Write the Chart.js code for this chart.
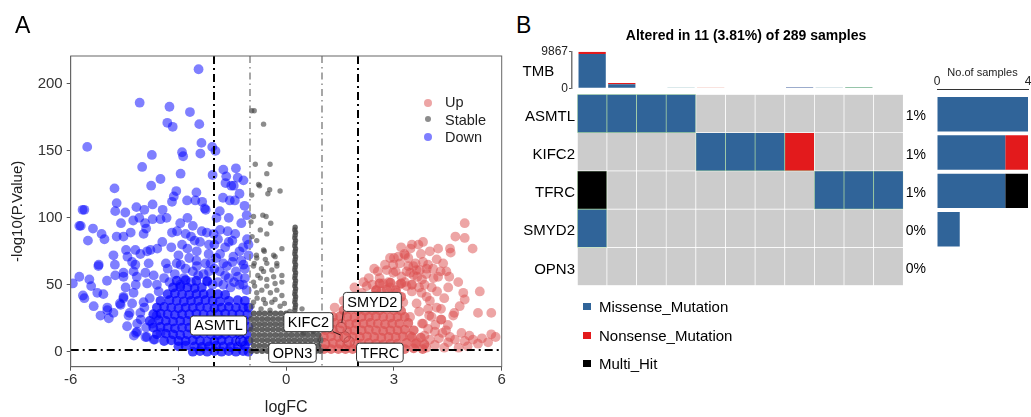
<!DOCTYPE html>
<html><head><meta charset="utf-8"><title>Volcano and oncoprint</title>
<script src="https://cdn.jsdelivr.net/npm/chart.js@4.4.1/dist/chart.umd.min.js"></script>
<style>
html,body{margin:0;padding:0;background:#fff;}
#wrap{position:relative;width:1031px;height:417px;overflow:hidden;font-family:"Liberation Sans",Arial,Helvetica,sans-serif;color:#000;}
#wrap canvas{position:absolute;}
.t{position:absolute;white-space:nowrap;line-height:1;}
.dot{position:absolute;border-radius:50%;}
.sq{position:absolute;width:8px;height:7px;}
</style></head><body>
<div id="wrap">
<canvas id="volcano" width="515" height="417" style="left:0;top:0;"></canvas>
<canvas id="tmb" width="400" height="48" style="left:510px;top:44px;"></canvas>
<canvas id="onco" width="420" height="200" style="left:510px;top:90px;"></canvas>
<canvas id="nsamp" width="101" height="230" style="left:930px;top:60px;"></canvas>

<div class="t" style="left:15px;top:13.5px;font-size:23px;">A</div>
<div class="t" style="left:516px;top:13.5px;font-size:23px;">B</div>
<div class="t" style="left:746px;top:28px;font-size:14px;font-weight:bold;transform:translateX(-50%);">Altered in 11 (3.81%) of 289 samples</div>
<div class="t" style="left:522.5px;top:62.5px;font-size:15px;">TMB</div>

<div class="dot" style="left:423.7px;top:98.7px;width:8px;height:8px;background:rgba(220,75,75,0.5);"></div>
<div class="dot" style="left:424.5px;top:116.1px;width:6.4px;height:6.4px;background:rgba(64,64,64,0.6);"></div>
<div class="dot" style="left:423.7px;top:133px;width:8px;height:8px;background:rgba(0,0,255,0.5);"></div>
<div class="t" style="left:445px;top:94.5px;font-size:14.5px;color:#222;">Up</div>
<div class="t" style="left:445px;top:112.7px;font-size:14.5px;color:#222;">Stable</div>
<div class="t" style="left:445px;top:130px;font-size:14.5px;color:#222;">Down</div>

<div class="sq" style="left:583.3px;top:303.2px;background:#306499;"></div>
<div class="sq" style="left:583.3px;top:331.5px;background:#E31A1C;"></div>
<div class="sq" style="left:583.3px;top:359.8px;background:#000;"></div>
<div class="t" style="left:599px;top:299.2px;font-size:15px;">Missense_Mutation</div>
<div class="t" style="left:599px;top:327.5px;font-size:15px;">Nonsense_Mutation</div>
<div class="t" style="left:599px;top:355.8px;font-size:15px;">Multi_Hit</div>
</div>
<script>
// ---------------- Volcano data ----------------
const xTicks = [-6, -3, 0, 3, 6];
const yTicks = [0, 50, 100, 150, 200];
const vCutoffs = [-2, -1, 1, 2];
const pCutoff = 1.3;

const downScatter = [[-2.44,211],[-4.08,186],[-3.25,183],[-2.68,179],[-3.31,171],[-3.16,168],[-2.42,170],[-5.54,153],[-2.36,156],[-2.06,153],[-1.97,150],[-3.74,147],[-2.39,148],[-2.9,149],[-2.87,146],[-4.01,138],[-3.5,129],[-2.94,133],[-2.05,132],[-1.75,136],[-1.4,137],[-1.67,131],[-1.35,130],[-1.19,128],[-1.69,126],[-1.46,124],[-1.53,124],[-4.78,122],[-3.76,124],[-3.06,120],[-2.5,119],[-3.13,116],[-2.76,113],[-3.18,112],[-2.53,113],[-2.34,112],[-1.76,115],[-1.57,113],[-1.43,113],[-1.3,118],[-1.16,109],[-2.27,107],[-4.72,111],[-4.17,108],[-3.72,110],[-5.67,106],[-5.62,106],[-4.76,105],[-4.48,104],[-3.95,106],[-3.44,106],[-2.24,106],[-4.09,100],[-4.26,98],[-3.72,99],[-3.5,99],[-3.33,100],[-1.94,100],[-5.76,94],[-5.72,94],[-5.38,92],[-3.93,96],[-5.14,88],[-5.06,84],[-5.52,83],[-4.72,86],[-4.53,86],[-4.33,89],[-3.97,88],[-3.18,89],[-3.04,90],[-2.8,88],[-2.6,94],[-2.35,90],[-2.21,89],[-2.02,88],[-1.84,91],[-1.63,90],[-1.42,88],[-1.09,84],[-1.05,80],[-4.46,76],[-4.2,76],[-3.87,75],[-3.59,77],[-3.2,78],[-2.75,77],[-2.49,75],[-2.16,73],[-1.84,73],[-1.47,71],[-4.81,72],[-4.42,71],[-4.06,73],[-3.78,76],[-5.23,64],[-4.77,65],[-4.2,65],[-3.83,66],[-3.35,66],[-2.94,65],[-2.49,64],[-2.11,66],[-1.65,64],[-1.19,65],[-5.22,65],[-4.29,67],[-5.76,56],[-5.48,54],[-4.99,53],[-4.76,57],[-4.53,56],[-4.16,56],[-3.69,57],[-5.94,51],[-5.43,49],[-4.53,59],[-4.25,60],[-3.92,59],[-4.47,48],[-4.19,50],[-3.87,51],[-5.66,42],[-5.62,40],[-5.26,44],[-5.09,43],[-4.53,41],[-4.25,44],[-5.36,34],[-4.98,33],[-4.61,35],[-4.29,36],[-3.97,37],[-5.17,27],[-4.94,25],[-4.98,31],[-4.81,29],[-4.63,36],[-4.53,40],[-4.36,29],[-4.39,27],[-4.06,29],[-4.24,12],[-4.18,14],[-3.88,11],[-3.66,9],[-4.43,19],[-4.15,21],[-4.15,15],[-3.92,11],[-3.69,9],[-3.5,14],[-3.73,21],[-3.61,27],[-2.6,60],[-2.3,58],[-2.0,62],[-1.7,57],[-1.4,60],[-1.15,55],[-2.85,55],[-3.1,58],[-3.4,55],[-1.9,52],[-1.3,50],[-2.2,53],[-1.55,48],[-1.1,46],[-3.6,50],[-2.7,70],[-3.0,72],[-1.3,75],[-2.0,80],[-3.45,82],[-2.55,83],[-1.6,82],[-1.25,96],[-1.1,102],[-1.6,100],[-2.75,100],[-3.9,92],[-4.6,96],[-1.85,105],[-2.95,96],
[-2.9,80],[-2.65,86],[-2.4,82],[-2.15,80],[-1.9,84],[-1.7,78],[-1.5,83],[-1.2,78],[-2.5,68],[-2.25,66],[-1.95,70],[-1.75,66],[-1.5,67],[-1.25,68],[-1.05,72],[-3.3,62],[-3.05,66],[-2.8,62],[-2.45,57],[-2.15,60],[-1.85,60],[-1.6,55],[-1.35,56],[-1.15,62],[-3.25,52],[-2.95,50],[-2.65,52],[-2.05,50],[-1.75,50],[-1.45,52],[-1.2,50],[-3.55,45],[-3.8,40],[-3.95,33],[-4.05,24],[-3.9,18]];

const downDense = [[-2.6,0],[-2.4,0.5],[-2.2,0],[-2.0,0.5],[-1.8,0],[-1.6,0.5],[-1.4,0],[-1.2,0.5],[-1.05,0],
[-3.0,4],[-2.8,4.5],[-2.55,4],[-2.35,3.5],[-2.15,4],[-1.95,4.5],[-1.75,4],[-1.55,3.5],[-1.35,4],[-1.15,4.5],
[-3.4,8],[-3.2,8.5],[-3.0,8],[-2.8,8],[-2.6,8.5],[-2.4,8],[-2.2,7.5],[-2.0,8],[-1.8,8.5],[-1.6,8],[-1.4,8],[-1.2,7.5],[-1.05,8],
[-3.6,13],[-3.35,13.5],[-3.15,13],[-2.95,12.5],[-2.75,13],[-2.5,13],[-2.3,13.5],[-2.1,13],[-1.9,12.5],[-1.7,13],[-1.5,13.5],[-1.3,13],[-1.1,13],
[-3.7,18],[-3.5,18.5],[-3.3,18],[-3.1,17.5],[-2.9,18],[-2.7,18],[-2.45,18.5],[-2.25,18],[-2.05,17.5],[-1.85,18],[-1.65,18.5],[-1.45,18],[-1.25,18],[-1.05,18.5],
[-3.8,23],[-3.55,23.5],[-3.35,23],[-3.15,22.5],[-2.95,23],[-2.75,23],[-2.55,23.5],[-2.35,23],[-2.15,22.5],[-1.95,23],[-1.75,23.5],[-1.55,23],[-1.35,23],[-1.15,23],
[-3.7,28],[-3.5,28.5],[-3.3,28],[-3.1,27.5],[-2.9,28],[-2.7,28],[-2.5,28.5],[-2.3,28],[-2.1,27.5],[-1.9,28],[-1.7,28.5],[-1.5,28],[-1.3,28],[-1.08,28],
[-3.6,33],[-3.4,33.5],[-3.2,33],[-3.0,32.5],[-2.8,33],[-2.6,33],[-2.4,33.5],[-2.2,33],[-2.0,32.5],[-1.8,33],[-1.6,33.5],[-1.4,33],[-1.2,33],[-1.05,33],
[-3.5,38],[-3.25,38.5],[-3.05,38],[-2.85,37.5],[-2.65,38],[-2.45,38],[-2.25,38.5],[-2.05,38],[-1.85,37.5],[-1.6,38],[-1.35,38.5],[-1.15,38],
[-3.3,43],[-3.1,43.5],[-2.9,43],[-2.7,42.5],[-2.5,43],[-2.3,43],[-2.1,43.5],[-1.9,43],[-1.7,42.5],
[-3.15,48],[-2.95,48.5],[-2.75,48],[-2.55,47.5],[-2.35,48],
[-3.05,53],[-2.8,53.5],[-2.5,53],[-2.2,52.5]];

const stableScatter = [[-0.96,180],[-0.89,180],[-0.63,170],[-0.86,140],[-0.45,140],[-0.54,133],[-0.77,125],[-0.74,124],[-0.46,121],[-0.17,120],[-0.96,117],[-0.51,118],[-0.91,101],[-0.65,102],[-0.56,101],[-0.43,96],[-0.98,97],[-0.72,91],[-0.54,88],[-0.82,83],[-0.95,86],[-0.12,77],[-0.63,76],[-0.61,75],[-0.82,70],[-0.83,72],[-0.35,72],[-0.58,69],[-0.31,71],[-0.89,66],[-0.54,66],[-0.26,66],[-0.69,62],[-0.4,61],[-0.91,64],[-0.63,60],[-0.26,64],[-0.79,57],[-0.12,57],[-0.72,55],[-0.35,56],[-0.54,54],[-0.91,52],[-0.12,52],[-0.31,51],[-0.88,49],[-0.54,49],[-0.68,46],[-0.26,46],[-0.82,44],[-0.44,44],[-0.12,42],[-0.81,40],[-0.63,39],[-0.31,39],[-0.4,37],[-0.91,37],[-0.58,36],[-0.95,34],[-0.17,34],[0.44,32],[0.48,14],[0.76,15],[-0.05,36],[-0.7,32],[-0.45,31],[0.1,30],[0.55,27],[0.8,26]];

const stableColumn = [[0.25,93],[0.24,91],[0.26,89],[0.25,87],[0.24,85],[0.26,83],[0.25,81],[0.24,79],[0.26,77],[0.25,75],[0.24,73],[0.26,71],[0.25,69],[0.24,67],[0.26,65],[0.25,63],[0.24,61],[0.26,59],[0.25,57],[0.24,55],[0.26,53],[0.25,51],[0.24,49],[0.26,47],[0.25,45],[0.24,43],[0.26,41],[0.25,39],[0.24,37],[0.26,35],[0.25,33],[0.24,31]];

const stableDense = [[-0.97,0.5],[-0.82,0.5],[-0.67,0.5],[-0.52,0.5],[-0.37,0.5],[-0.22,0.5],[-0.07,0.5],[0.08,0.5],[0.23,0.5],[0.38,0.5],[0.53,0.5],[0.68,0.5],[0.83,0.5],[0.95,0.5],
[-0.9,4.5],[-0.75,4.5],[-0.6,4.5],[-0.45,4.5],[-0.3,4.5],[-0.15,4.5],[0.0,4.5],[0.15,4.5],[0.3,4.5],[0.45,4.5],[0.6,4.5],[0.75,4.5],[0.9,4.5],
[-0.97,8.5],[-0.82,8.5],[-0.67,8.5],[-0.52,8.5],[-0.37,8.5],[-0.22,8.5],[-0.07,8.5],[0.08,8.5],[0.23,8.5],[0.38,8.5],[0.53,8.5],[0.68,8.5],[0.83,8.5],[0.95,8.5],
[-0.9,12.5],[-0.75,12.5],[-0.6,12.5],[-0.45,12.5],[-0.3,12.5],[-0.15,12.5],[0.0,12.5],[0.15,12.5],[0.3,12.5],[0.45,12.5],[0.6,12.5],[0.75,12.5],[0.9,12.5],
[-0.97,16.5],[-0.82,16.5],[-0.67,16.5],[-0.52,16.5],[-0.37,16.5],[-0.22,16.5],[-0.07,16.5],[0.08,16.5],[0.23,16.5],[0.38,16.5],[0.53,16.5],[0.68,16.5],[0.83,16.5],
[-0.9,20.5],[-0.75,20.5],[-0.6,20.5],[-0.45,20.5],[-0.3,20.5],[-0.15,20.5],[0.0,20.5],[0.15,20.5],[0.3,20.5],[0.45,20.5],[0.6,20.5],[0.75,20.5],
[-0.97,24.5],[-0.82,24.5],[-0.67,24.5],[-0.52,24.5],[-0.37,24.5],[-0.22,24.5],[-0.07,24.5],[0.08,24.5],[0.23,24.5],[0.38,24.5],[0.53,24.5],[0.68,24.5],
[-0.9,28.5],[-0.75,28.5],[-0.6,28.5],[-0.45,28.5],[-0.3,28.5],[-0.15,28.5],[0.0,28.5]];

const upScatter = [[4.97,96],[4.71,86],[4.97,85],[5.19,77],[3.81,82],[3.68,80],[4.56,77],[4.58,74],[3.46,77],[4.0,75],[3.31,72],[4.19,69],[4.37,66],[3.81,67],[3.63,61],[4.09,62],[4.46,60],[4.23,56],[4.54,56],[4.79,52],[4.05,48],[4.51,48],[5.39,45],[4.93,44],[3.77,44],[4.97,39],[4.83,34],[5.34,29],[5.71,29],[4.65,27],[4.19,33],[3.98,27],[4.32,24],[3.81,21],[4.88,14],[4.14,15],[5.71,13],[5.83,11],[5.2,9],[5.62,7],[5.34,6],[4.97,8],[4.51,7],[4.0,9],[3.63,7],[3.44,12],[4.56,11],[3.29,73],[2.98,65],[2.8,61],[3.4,64],[3.72,61],[3.17,66],[2.24,49],[2.7,51],[2.98,59],[3.21,56],[2.52,46],[3.35,49],[3.07,44],[3.26,37],[3.63,36],[3.91,41],[3.45,59],[3.78,54],[3.91,62],[2.89,70],[3.12,71],[3.54,64],[4.23,77],[2.6,55],[2.85,52],[3.05,60],[3.3,52],[3.55,57],[3.7,48],[2.4,50],[3.9,58],[3.6,66],[3.4,70],[3.75,73],[3.95,65],[4.3,60],[3.45,26],[3.78,21],[4.05,26],[4.31,32],[4.68,29],[4.31,24],[4.14,5],[4.4,3],[4.8,3],[5.05,4],[3.9,3],[1.9,48],[2.1,44],[1.6,38],[1.35,33],[3.85,12],[4.25,10],[4.7,9],[5.1,12],[5.45,10],[4.45,16],[3.95,17],
[2.3,55],[2.55,60],[2.75,65],[3.0,70],[3.2,78],[3.5,80],[2.45,62],[2.15,52],[3.35,60],[3.65,56],[2.65,45],[2.9,48],[3.15,50],[3.5,45],[3.85,50],[4.1,55],[4.0,38],[4.4,40],[4.2,45],[3.7,30],[3.95,32],[4.15,20],[4.5,20],[4.35,14]];

const upDense = [[1.05,2],[1.25,2],[1.45,2],[1.65,2],[1.85,2],[2.05,2],[2.25,2],[2.45,2],[2.65,2],[2.85,2],[3.05,2],[3.3,2],[3.55,2.5],[3.8,2],
[1.1,6],[1.3,6.5],[1.5,6],[1.7,5.5],[1.9,6],[2.1,6],[2.3,6.5],[2.5,6],[2.7,5.5],[2.9,6],[3.1,6],[3.35,6.5],[3.6,6],[3.85,5.5],
[1.05,11],[1.25,11.5],[1.45,11],[1.65,10.5],[1.85,11],[2.05,11],[2.25,11.5],[2.45,11],[2.65,10.5],[2.85,11],[3.05,11],[3.25,11.5],[3.5,11],[3.75,10.5],
[1.1,16],[1.3,16.5],[1.5,16],[1.7,15.5],[1.9,16],[2.1,16],[2.3,16.5],[2.5,16],[2.7,15.5],[2.9,16],[3.1,16],[3.3,16.5],[3.55,16],
[1.15,21],[1.35,21.5],[1.55,21],[1.75,20.5],[1.95,21],[2.15,21],[2.35,21.5],[2.55,21],[2.75,20.5],[2.95,21],[3.15,21],[3.4,21.5],
[1.3,26],[1.5,26.5],[1.7,26],[1.9,25.5],[2.1,26],[2.3,26],[2.5,26.5],[2.7,26],[2.9,25.5],[3.1,26],[3.3,26],
[1.6,31],[1.8,31.5],[2.0,31],[2.2,30.5],[2.4,31],[2.6,31],[2.8,31.5],[3.0,31],[3.2,30.5],
[1.9,36],[2.1,36.5],[2.3,36],[2.5,35.5],[2.7,36],[2.9,36],[3.1,36.5],
[2.2,41],[2.45,41.5],[2.7,41],[2.95,40.5],[3.2,41],
[2.5,46],[2.8,46.5],[3.05,46],
[2.6,51],[2.9,51.5],[3.2,51],[3.5,50]];

const labelGenes = ['ASMTL', 'KIFC2', 'OPN3', 'SMYD2', 'TFRC'];
const labelLogFC = [-1.26, 1.64, 1.06, 1.53, 1.75];
const labelLogP = [8, 11, 5.8, 18, 7.5];

// ---------------- Oncoprint data ----------------
const genes = ['ASMTL', 'KIFC2', 'TFRC', 'SMYD2', 'OPN3'];
const genePct = ['1%', '1%', '1%', '0%', '0%'];
const samples = ['S1','S2','S3','S4','S5','S6','S7','S8','S9','S10','S11'];
const mutASMTL = ['M','M','M','M','','','','','','',''];
const mutKIFC2 = ['','','','','M','M','M','N','','',''];
const mutTFRC  = ['H','','','','','','','','M','M','M'];
const mutSMYD2 = ['M','','','','','','','','','',''];
const mutOPN3  = ['','','','','','','','','','',''];
const tmbTicks = [0, 9867];
const tmbOther    = [167, 0, 180, 200, 220, 0, 160, 260, 190, 270, 160];
const tmbMissense = [9050, 1100, 0, 0, 0, 0, 0, 0, 0, 0, 0];
const tmbNonsense = [650, 300, 0, 0, 0, 0, 0, 0, 0, 0, 0];
const nsMissense = [4, 3, 3, 1, 0];
const nsNonsense = [0, 1, 0, 0, 0];
const nsMultiHit = [0, 0, 1, 0, 0];
const nsTicks = [0, 4];

// ---------------- Styles ----------------
Chart.defaults.font.family = '"Liberation Sans", Arial, Helvetica, sans-serif';
const FONT = '"Liberation Sans", Arial, Helvetica, sans-serif';
const C_MIS = '#306499', C_NON = '#E31A1C', C_MULTI = '#000000', C_NONE = '#CCCCCC';
const mutColor = {'M': C_MIS, 'N': C_NON, 'H': C_MULTI, '': C_NONE};
const tmbOtherColors = ['#2E8B57', '#6FA0C0', '#9A9ACC', '#6FA8B0', '#E8917F', '#999', '#8C9CCC', '#3A5A9A', '#6FA0B0', '#2E8B57', '#9AA0C8'];
const toXY = arr => arr.map(p => ({x: p[0], y: p[1]}));
const noPadV = s => { s.paddingTop = 0; s.paddingBottom = 0; };
const noPadH = s => { s.paddingLeft = 0; s.paddingRight = 0; };

// ---------------- Volcano ----------------
const boxOffsets = [[-22.4,-15.5], [-36.7,-14.8], [-31.8,8.8], [31.2,-25.7], [30.8,11]];
const volcanoDecor = {
  id: 'volcanoDecor',
  afterDatasetsDraw(chart) {
    const {ctx, chartArea: a, scales: {x, y}} = chart;
    ctx.save();
    ctx.beginPath(); ctx.rect(a.left, a.top, a.right - a.left, a.bottom - a.top); ctx.clip();
    vCutoffs.forEach(v => {
      const px = Math.round(x.getPixelForValue(v));
      const strong = Math.abs(v) >= 2;
      ctx.strokeStyle = strong ? '#000' : '#777';
      ctx.lineWidth = strong ? 2 : 1.3;
      ctx.setLineDash(strong ? [8, 4, 2, 4] : [7, 4, 1.5, 4]);
      ctx.beginPath(); ctx.moveTo(px, a.top); ctx.lineTo(px, a.bottom); ctx.stroke();
    });
    const py = y.getPixelForValue(pCutoff);
    ctx.strokeStyle = '#000'; ctx.lineWidth = 2; ctx.setLineDash([8, 4, 2, 4]);
    ctx.beginPath(); ctx.moveTo(a.left, py); ctx.lineTo(a.right, py); ctx.stroke();
    ctx.restore();

    ctx.save();
    ctx.setLineDash([]);
    ctx.font = '14.5px ' + FONT;
    labelGenes.forEach((g, i) => {
      const px = x.getPixelForValue(labelLogFC[i]);
      const py2 = y.getPixelForValue(labelLogP[i]);
      const w = ctx.measureText(g).width + 8, h = 19;
      const cx = px + boxOffsets[i][0], cy = py2 + boxOffsets[i][1];
      const l = cx - w / 2, t = cy - h / 2;
      const nx = Math.max(l, Math.min(px, l + w)), ny = Math.max(t, Math.min(py2, t + h));
      const d = Math.hypot(nx - px, ny - py2);
      if (d > 10) {
        ctx.strokeStyle = '#000'; ctx.lineWidth = 0.8;
        ctx.beginPath();
        ctx.moveTo(px + (nx - px) / d * 5, py2 + (ny - py2) / d * 5);
        ctx.lineTo(nx, ny); ctx.stroke();
      }
      ctx.beginPath();
      ctx.roundRect(l, t, w, h, 3);
      ctx.fillStyle = '#fff'; ctx.fill();
      ctx.strokeStyle = '#333'; ctx.lineWidth = 1; ctx.stroke();
      ctx.fillStyle = '#000'; ctx.textAlign = 'center'; ctx.textBaseline = 'middle';
      ctx.fillText(g, cx, cy + 1);
    });
    ctx.restore();
  },
  afterDraw(chart) {
    const {ctx, chartArea: a} = chart;
    ctx.save(); ctx.strokeStyle = '#666'; ctx.lineWidth = 1;
    ctx.strokeRect(a.left, a.top, a.right - a.left, a.bottom - a.top);
    ctx.restore();
  }
};

new Chart(document.getElementById('volcano'), {
  type: 'scatter',
  data: { datasets: [
    {label: 'Stable', data: toXY(stableDense), pointBackgroundColor: 'rgba(70,70,70,0.85)', pointRadius: 3, pointBorderWidth: 0},
    {label: 'Stable', data: toXY(stableColumn), pointBackgroundColor: 'rgba(70,70,70,0.8)', pointRadius: 2.7, pointBorderWidth: 0},
    {label: 'Stable', data: toXY(stableScatter), pointBackgroundColor: 'rgba(64,64,64,0.6)', pointRadius: 2.7, pointBorderWidth: 0},
    {label: 'Down', data: toXY(downDense), pointBackgroundColor: 'rgba(0,0,255,0.72)', pointRadius: 4.9, pointBorderWidth: 0},
    {label: 'Down', data: toXY(downScatter), pointBackgroundColor: 'rgba(0,0,255,0.5)', pointRadius: 4.9, pointBorderWidth: 0},
    {label: 'Up', data: toXY(upDense), pointBackgroundColor: 'rgba(220,85,85,0.78)', pointRadius: 4.9, pointBorderWidth: 0},
    {label: 'Up', data: toXY(upScatter), pointBackgroundColor: 'rgba(220,75,75,0.5)', pointRadius: 4.9, pointBorderWidth: 0},
    {label: 'labelled', data: labelLogFC.map((v, i) => ({x: v, y: labelLogP[i]})), pointBackgroundColor: 'rgba(0,0,0,0)', pointBorderColor: '#000', pointBorderWidth: 1, pointRadius: 5.2}
  ]},
  options: {
    responsive: false, animation: false, devicePixelRatio: 1,
    layout: {padding: {left: 0, right: 13.3, top: 56, bottom: 0}},
    plugins: {legend: {display: false}, tooltip: {enabled: false}},
    scales: {
      x: {type: 'linear', min: -6, max: 6,
        afterBuildTicks: s => { s.ticks = xTicks.map(v => ({value: v})); },
        afterFit: s => { s.height = 50.3; noPadH(s); },
        grid: {drawOnChartArea: false, tickLength: 4, color: '#555'},
        border: {color: '#666'},
        ticks: {font: {size: 15}, color: '#333', padding: 0, maxRotation: 0, callback: v => String(v)},
        title: {display: true, text: 'logFC', font: {size: 16}, color: '#222', padding: {top: 0, bottom: 0}}},
      y: {type: 'linear', min: -11.2, max: 220.9,
        afterBuildTicks: s => { s.ticks = yTicks.map(v => ({value: v})); },
        afterFit: s => { s.width = 70.7; noPadV(s); },
        grid: {drawOnChartArea: false, tickLength: 4, color: '#555'},
        border: {color: '#666'},
        ticks: {font: {size: 15}, color: '#333', padding: 4, callback: v => String(v)},
        title: {display: true, text: '-log10(P.Value)', font: {size: 15}, color: '#222', padding: {top: 9.3, bottom: 0}}}
    }
  },
  plugins: [volcanoDecor]
});

// ---------------- TMB bars ----------------
new Chart(document.getElementById('tmb'), {
  type: 'bar',
  data: { datasets: [
    {label: 'Other', data: tmbOther.map((v, i) => ({x: i, y: v})), backgroundColor: tmbOtherColors},
    {label: 'Missense_Mutation', data: tmbMissense.map((v, i) => ({x: i, y: v})), backgroundColor: C_MIS},
    {label: 'Nonsense_Mutation', data: tmbNonsense.map((v, i) => ({x: i, y: v})), backgroundColor: C_NON}
  ]},
  options: {
    responsive: false, animation: false, devicePixelRatio: 1,
    layout: {padding: {left: 0, right: 6.7, top: 7.7, bottom: 3.7}},
    plugins: {legend: {display: false}, tooltip: {enabled: false}},
    datasets: {bar: {barPercentage: 0.92, categoryPercentage: 1, borderWidth: 0}},
    scales: {
      x: {type: 'linear', min: -0.68, max: 10.5, stacked: true, display: false, offset: false,
        afterBuildTicks: s => { s.ticks = samples.map((n, i) => ({value: i})); }},
      y: {type: 'linear', min: 0, max: 9867, stacked: true,
        afterBuildTicks: s => { s.ticks = tmbTicks.map(v => ({value: v})); },
        afterFit: s => { s.width = 62; noPadV(s); },
        grid: {drawOnChartArea: false, tickLength: 3, color: '#555'},
        border: {color: '#777', width: 1.5},
        ticks: {font: {size: 12}, color: '#222', padding: 1, callback: v => String(v)}}
    }
  }
});

// ---------------- Oncoprint grid ----------------
const mutMatrix = [mutASMTL, mutKIFC2, mutTFRC, mutSMYD2, mutOPN3];
new Chart(document.getElementById('onco'), {
  type: 'bar',
  data: { labels: samples, datasets: genes.map((g, i) => ({
    label: g,
    data: samples.map(() => 1),
    backgroundColor: mutMatrix[i].map(c => mutColor[c]),
    borderColor: mutMatrix[i].map(c => c ? '#A9D6A3' : '#FFFFFF'),
    borderWidth: 0.7, borderSkipped: false,
    barPercentage: 1, categoryPercentage: 1
  }))},
  options: {
    responsive: false, animation: false, devicePixelRatio: 1,
    layout: {padding: {left: 0, right: 0, top: 4.3, bottom: 4.3}},
    plugins: {legend: {display: false}, tooltip: {enabled: false}},
    scales: {
      x: {stacked: true, display: false},
      y: {type: 'linear', stacked: true, min: 0, max: 5, reverse: true, position: 'left',
        afterBuildTicks: s => { s.ticks = genes.map((g, i) => ({value: i + 0.5})); },
        afterFit: s => { s.width = 67.3; noPadV(s); },
        grid: {display: false, drawTicks: false, tickLength: 0}, border: {display: false},
        ticks: {font: {size: 15}, color: '#000', padding: 2.3, labelOffset: 3, autoSkip: false, callback: (v, i) => genes[i]}},
      y2: {type: 'linear', min: 0, max: 5, reverse: true, position: 'right',
        afterBuildTicks: s => { s.ticks = genePct.map((p, i) => ({value: i + 0.5})); },
        afterFit: s => { s.width = 26.7; noPadV(s); },
        grid: {display: false, drawTicks: false, tickLength: 0}, border: {display: false},
        ticks: {font: {size: 14}, color: '#000', padding: 2.4, labelOffset: 3, autoSkip: false, callback: (v, i) => genePct[i]}}
    }
  }
});

// ---------------- No. of samples bars ----------------
// index axis is linear (gene row number) so the top axis line can sit above the first bar
new Chart(document.getElementById('nsamp'), {
  type: 'bar',
  data: { datasets: [
    {label: 'Missense_Mutation', data: nsMissense.map((v, i) => ({x: v, y: i})), backgroundColor: C_MIS},
    {label: 'Nonsense_Mutation', data: nsNonsense.map((v, i) => ({x: v, y: i})), backgroundColor: C_NON},
    {label: 'Multi_Hit', data: nsMultiHit.map((v, i) => ({x: v, y: i})), backgroundColor: C_MULTI}
  ]},
  options: {
    indexAxis: 'y',
    responsive: false, animation: false, devicePixelRatio: 1,
    layout: {padding: {left: 7, right: 3, top: 0, bottom: 9.5}},
    plugins: {legend: {display: false}, tooltip: {enabled: false}},
    datasets: {bar: {barPercentage: 0.9, categoryPercentage: 1, borderWidth: 0, grouped: false}},
    scales: {
      y: {type: 'linear', min: -0.66, max: 4.34, reverse: true, stacked: true, display: false, offset: false,
        afterBuildTicks: s => { s.ticks = genes.map((g, i) => ({value: i})); }},
      x: {type: 'linear', position: 'top', min: 0, max: 4, stacked: true,
        afterBuildTicks: s => { s.ticks = nsTicks.map(v => ({value: v})); },
        afterFit: s => { s.height = 29; noPadH(s); },
        grid: {drawOnChartArea: false, drawTicks: false, tickLength: 0, color: '#333'},
        border: {display: true, color: '#333', width: 1},
        ticks: {font: {size: 12}, color: '#222', padding: 0, maxRotation: 0, callback: v => String(v)},
        title: {display: true, text: 'No.of samples', font: {size: 11}, color: '#222', padding: {top: 6.4, bottom: 0}}}
    }
  }
});
</script>
</body></html>
